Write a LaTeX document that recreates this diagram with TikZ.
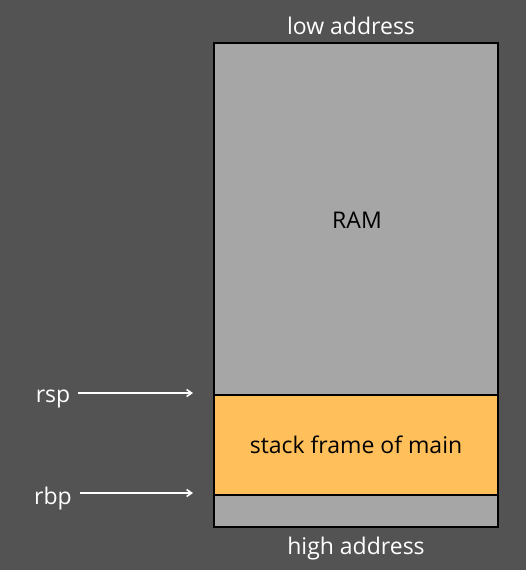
\documentclass[tikz,border=0pt]{standalone}
\usepackage{fontspec}
\setmainfont{Open Sans}
\usetikzlibrary{arrows.meta,positioning}
\definecolor{bgdark}{HTML}{535353}
\definecolor{ramgray}{HTML}{A6A6A6}
\definecolor{frameorange}{HTML}{FFBF5A}

\tikzset{
  regname/.style={white,anchor=center,inner sep=2pt},
  regarrow/.style={white,line width=1.6pt,-{Straight Barb[length=5pt,width=7pt]}},
  caption/.style={white},
}

\begin{document}
\begin{tikzpicture}[x=1pt,y=-1pt,font=\fontsize{23}{27}\selectfont]
  \useasboundingbox (0,0) rectangle (526,570);
  \fill[bgdark] (0,0) rectangle (526,570);
  % memory
  \fill[ramgray] (214,43) rectangle (498,527);
  \draw[fill=frameorange,line width=1.6pt] (214,395) rectangle (498,495);
  \draw[line width=2pt] (214,43) rectangle (498,527);
  \node (ram) at (357,220) {RAM};
  \node (frame) at (356,445) {stack frame of main};
  \node[caption] (low) at (351,26) {low address};
  \node[caption] (high) at (356,549) {high address};
  % registers
  \node[regname] (rsp) at (53,399) {rsp};
  \node[regname] (rbp) at (53,499) {rbp};
  \coordinate (rsptip) at (193,393);
  \coordinate (rbptip) at (193,493);
  \draw[regarrow,shorten <=6pt] (rsp.east |- rsptip) -- (rsptip);
  \draw[regarrow,shorten <=6pt] (rbp.east |- rbptip) -- (rbptip);
\end{tikzpicture}
\end{document}
